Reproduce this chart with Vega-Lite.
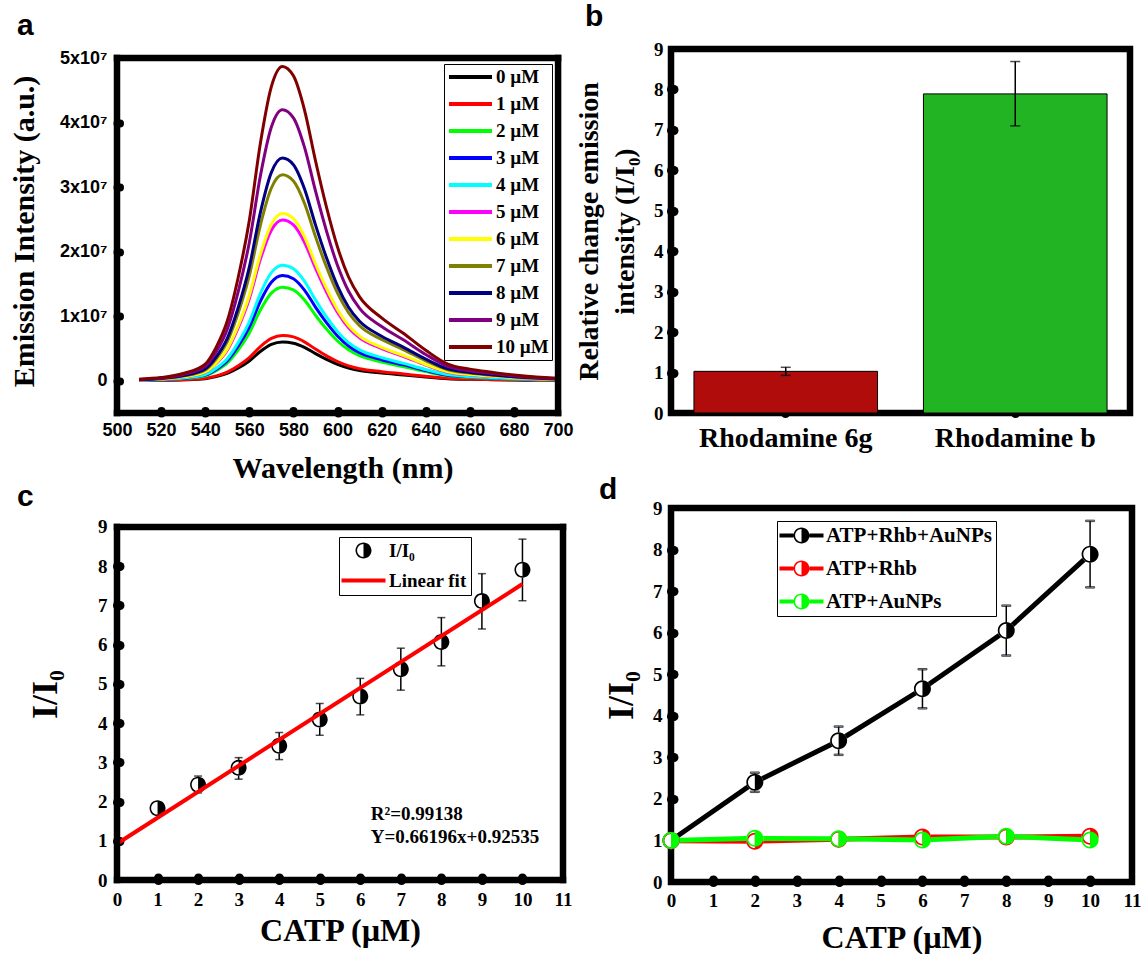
{
  "$schema": "https://vega.github.io/schema/vega-lite/v6.json",
  "autosize": {"type": "none"},
  "padding": {"left": 117, "top": 49, "right": 1024, "bottom": 905},
  "background": "white",
  "config": {
    "view": {"stroke": "black", "strokeWidth": 6.5},
    "font": "Liberation Serif",
    "axis": {"domain": false, "grid": false, "labelFont": "Liberation Serif", "labelFontWeight": "bold", "labelFontSize": 19, "labelColor": "black", "titleFont": "Liberation Serif", "titleFontWeight": "bold", "titleColor": "black", "tickColor": "black", "tickCap": "round", "tickSize": -2.5, "labelOverlap": false, "labelFlush": false},
    "legend": {"labelFont": "Liberation Serif", "labelFontWeight": "bold", "labelColor": "black", "labelLimit": 400},
    "title": {"font": "Liberation Sans", "fontSize": 30, "fontWeight": "bold", "anchor": "start", "frame": "group", "baseline": "alphabetic", "color": "black"}
  },
  "datasets": {
    "spectra": [
      {"wavelength":510,"0 µM":0.003e7,"1 µM":0.0035e7,"2 µM":0.007e7,"3 µM":0.008e7,"4 µM":0.009e7,"5 µM":0.012e7,"6 µM":0.013e7,"7 µM":0.016e7,"8 µM":0.017e7,"9 µM":0.021e7,"10 µM":0.024e7},
      {"wavelength":520,"0 µM":0.006e7,"1 µM":0.007e7,"2 µM":0.015e7,"3 µM":0.016e7,"4 µM":0.018e7,"5 µM":0.025e7,"6 µM":0.026e7,"7 µM":0.032e7,"8 µM":0.035e7,"9 µM":0.042e7,"10 µM":0.049e7},
      {"wavelength":530,"0 µM":0.014e7,"1 µM":0.016e7,"2 µM":0.033e7,"3 µM":0.037e7,"4 µM":0.041e7,"5 µM":0.057e7,"6 µM":0.060e7,"7 µM":0.073e7,"8 µM":0.079e7,"9 µM":0.097e7,"10 µM":0.112e7},
      {"wavelength":540,"0 µM":0.032e7,"1 µM":0.037e7,"2 µM":0.077e7,"3 µM":0.086e7,"4 µM":0.095e7,"5 µM":0.132e7,"6 µM":0.137e7,"7 µM":0.169e7,"8 µM":0.183e7,"9 µM":0.223e7,"10 µM":0.258e7},
      {"wavelength":545,"0 µM":0.064e7,"1 µM":0.075e7,"2 µM":0.155e7,"3 µM":0.174e7,"4 µM":0.192e7,"5 µM":0.266e7,"6 µM":0.277e7,"7 µM":0.341e7,"8 µM":0.369e7,"9 µM":0.449e7,"10 µM":0.521e7},
      {"wavelength":550,"0 µM":0.114e7,"1 µM":0.133e7,"2 µM":0.276e7,"3 µM":0.310e7,"4 µM":0.340e7,"5 µM":0.473e7,"6 µM":0.492e7,"7 µM":0.606e7,"8 µM":0.656e7,"9 µM":0.798e7,"10 µM":0.925e7},
      {"wavelength":555,"0 µM":0.198e7,"1 µM":0.231e7,"2 µM":0.479e7,"3 µM":0.538e7,"4 µM":0.591e7,"5 µM":0.822e7,"6 µM":0.855e7,"7 µM":1.053e7,"8 µM":1.139e7,"9 µM":1.386e7,"10 µM":1.607e7},
      {"wavelength":560,"0 µM":0.306e7,"1 µM":0.357e7,"2 µM":0.740e7,"3 µM":0.831e7,"4 µM":0.913e7,"5 µM":1.270e7,"6 µM":1.321e7,"7 µM":1.627e7,"8 µM":1.760e7,"9 µM":2.142e7,"10 µM":2.484e7},
      {"wavelength":565,"0 µM":0.453e7,"1 µM":0.529e7,"2 µM":1.095e7,"3 µM":1.231e7,"4 µM":1.351e7,"5 µM":1.880e7,"6 µM":1.955e7,"7 µM":2.408e7,"8 µM":2.605e7,"9 µM":3.171e7,"10 µM":3.677e7},
      {"wavelength":570,"0 µM":0.562e7,"1 µM":0.655e7,"2 µM":1.357e7,"3 µM":1.526e7,"4 µM":1.675e7,"5 µM":2.331e7,"6 µM":2.424e7,"7 µM":2.986e7,"8 µM":3.229e7,"9 µM":3.931e7,"10 µM":4.558e7},
      {"wavelength":575,"0 µM":0.600e7,"1 µM":0.700e7,"2 µM":1.450e7,"3 µM":1.630e7,"4 µM":1.790e7,"5 µM":2.490e7,"6 µM":2.590e7,"7 µM":3.190e7,"8 µM":3.450e7,"9 µM":4.200e7,"10 µM":4.870e7},
      {"wavelength":580,"0 µM":0.582e7,"1 µM":0.679e7,"2 µM":1.407e7,"3 µM":1.581e7,"4 µM":1.736e7,"5 µM":2.415e7,"6 µM":2.512e7,"7 µM":3.094e7,"8 µM":3.347e7,"9 µM":4.074e7,"10 µM":4.724e7},
      {"wavelength":585,"0 µM":0.517e7,"1 µM":0.603e7,"2 µM":1.250e7,"3 µM":1.405e7,"4 µM":1.543e7,"5 µM":2.146e7,"6 µM":2.233e7,"7 µM":2.750e7,"8 µM":2.974e7,"9 µM":3.620e7,"10 µM":4.198e7},
      {"wavelength":590,"0 µM":0.420e7,"1 µM":0.490e7,"2 µM":1.015e7,"3 µM":1.141e7,"4 µM":1.253e7,"5 µM":1.743e7,"6 µM":1.813e7,"7 µM":2.233e7,"8 µM":2.415e7,"9 µM":2.940e7,"10 µM":3.409e7},
      {"wavelength":595,"0 µM":0.331e7,"1 µM":0.386e7,"2 µM":0.800e7,"3 µM":0.900e7,"4 µM":0.988e7,"5 µM":1.374e7,"6 µM":1.430e7,"7 µM":1.761e7,"8 µM":1.904e7,"9 µM":2.318e7,"10 µM":2.688e7},
      {"wavelength":600,"0 µM":0.255e7,"1 µM":0.298e7,"2 µM":0.616e7,"3 µM":0.693e7,"4 µM":0.761e7,"5 µM":1.058e7,"6 µM":1.101e7,"7 µM":1.356e7,"8 µM":1.466e7,"9 µM":1.785e7,"10 µM":2.070e7},
      {"wavelength":605,"0 µM":0.198e7,"1 µM":0.231e7,"2 µM":0.479e7,"3 µM":0.538e7,"4 µM":0.591e7,"5 µM":0.822e7,"6 µM":0.855e7,"7 µM":1.053e7,"8 µM":1.139e7,"9 µM":1.386e7,"10 µM":1.607e7},
      {"wavelength":610,"0 µM":0.160e7,"1 µM":0.187e7,"2 µM":0.387e7,"3 µM":0.435e7,"4 µM":0.478e7,"5 µM":0.665e7,"6 µM":0.692e7,"7 µM":0.852e7,"8 µM":0.921e7,"9 µM":1.121e7,"10 µM":1.300e7},
      {"wavelength":620,"0 µM":0.120e7,"1 µM":0.140e7,"2 µM":0.290e7,"3 µM":0.326e7,"4 µM":0.358e7,"5 µM":0.498e7,"6 µM":0.518e7,"7 µM":0.638e7,"8 µM":0.690e7,"9 µM":0.840e7,"10 µM":0.974e7},
      {"wavelength":630,"0 µM":0.090e7,"1 µM":0.105e7,"2 µM":0.218e7,"3 µM":0.245e7,"4 µM":0.269e7,"5 µM":0.374e7,"6 µM":0.389e7,"7 µM":0.479e7,"8 µM":0.518e7,"9 µM":0.630e7,"10 µM":0.731e7},
      {"wavelength":640,"0 µM":0.058e7,"1 µM":0.068e7,"2 µM":0.141e7,"3 µM":0.158e7,"4 µM":0.174e7,"5 µM":0.242e7,"6 µM":0.251e7,"7 µM":0.309e7,"8 µM":0.335e7,"9 µM":0.407e7,"10 µM":0.472e7},
      {"wavelength":650,"0 µM":0.032e7,"1 µM":0.037e7,"2 µM":0.077e7,"3 µM":0.086e7,"4 µM":0.095e7,"5 µM":0.132e7,"6 µM":0.137e7,"7 µM":0.169e7,"8 µM":0.183e7,"9 µM":0.223e7,"10 µM":0.258e7},
      {"wavelength":660,"0 µM":0.022e7,"1 µM":0.026e7,"2 µM":0.054e7,"3 µM":0.060e7,"4 µM":0.066e7,"5 µM":0.092e7,"6 µM":0.096e7,"7 µM":0.118e7,"8 µM":0.128e7,"9 µM":0.155e7,"10 µM":0.180e7},
      {"wavelength":670,"0 µM":0.016e7,"1 µM":0.019e7,"2 µM":0.039e7,"3 µM":0.044e7,"4 µM":0.048e7,"5 µM":0.067e7,"6 µM":0.070e7,"7 µM":0.086e7,"8 µM":0.093e7,"9 µM":0.113e7,"10 µM":0.131e7},
      {"wavelength":680,"0 µM":0.011e7,"1 µM":0.013e7,"2 µM":0.026e7,"3 µM":0.029e7,"4 µM":0.032e7,"5 µM":0.045e7,"6 µM":0.047e7,"7 µM":0.057e7,"8 µM":0.062e7,"9 µM":0.076e7,"10 µM":0.088e7},
      {"wavelength":690,"0 µM":0.007e7,"1 µM":0.008e7,"2 µM":0.017e7,"3 µM":0.020e7,"4 µM":0.021e7,"5 µM":0.030e7,"6 µM":0.031e7,"7 µM":0.038e7,"8 µM":0.041e7,"9 µM":0.050e7,"10 µM":0.058e7},
      {"wavelength":700,"0 µM":0.005e7,"1 µM":0.006e7,"2 µM":0.012e7,"3 µM":0.013e7,"4 µM":0.014e7,"5 µM":0.020e7,"6 µM":0.021e7,"7 µM":0.026e7,"8 µM":0.028e7,"9 µM":0.034e7,"10 µM":0.039e7}
    ],
    "bars": [
      {"dye": "Rhodamine 6g", "ratio": 1.03, "lo": 0.93, "hi": 1.13},
      {"dye": "Rhodamine b", "ratio": 7.89, "lo": 7.10, "hi": 8.69}
    ],
    "cPoints": [
      {"conc": 1, "ratio": 1.83, "lo": 1.76, "hi": 1.90, "series": "I/I₀"},
      {"conc": 2, "ratio": 2.43, "lo": 2.22, "hi": 2.65, "series": "I/I₀"},
      {"conc": 3, "ratio": 2.86, "lo": 2.57, "hi": 3.12, "series": "I/I₀"},
      {"conc": 4, "ratio": 3.42, "lo": 3.07, "hi": 3.76, "series": "I/I₀"},
      {"conc": 5, "ratio": 4.09, "lo": 3.69, "hi": 4.50, "series": "I/I₀"},
      {"conc": 6, "ratio": 4.68, "lo": 4.21, "hi": 5.14, "series": "I/I₀"},
      {"conc": 7, "ratio": 5.37, "lo": 4.84, "hi": 5.91, "series": "I/I₀"},
      {"conc": 8, "ratio": 6.07, "lo": 5.46, "hi": 6.69, "series": "I/I₀"},
      {"conc": 9, "ratio": 7.11, "lo": 6.40, "hi": 7.81, "series": "I/I₀"},
      {"conc": 10, "ratio": 7.91, "lo": 7.12, "hi": 8.69, "series": "I/I₀"}
    ],
    "cFit": [
      {"conc": 0, "fit": 0.925},
      {"conc": 10, "fit": 7.545}
    ],
    "dSeries": [
      {"series": "ATP+Rhb+AuNPs", "conc": 0, "ratio": 1.00, "lo": 0.95, "hi": 1.05},
      {"series": "ATP+Rhb+AuNPs", "conc": 2, "ratio": 2.40, "lo": 2.17, "hi": 2.63},
      {"series": "ATP+Rhb+AuNPs", "conc": 4, "ratio": 3.40, "lo": 3.06, "hi": 3.74},
      {"series": "ATP+Rhb+AuNPs", "conc": 6, "ratio": 4.65, "lo": 4.18, "hi": 5.12},
      {"series": "ATP+Rhb+AuNPs", "conc": 8, "ratio": 6.05, "lo": 5.45, "hi": 6.65},
      {"series": "ATP+Rhb+AuNPs", "conc": 10, "ratio": 7.89, "lo": 7.09, "hi": 8.69},
      {"series": "ATP+Rhb", "conc": 0, "ratio": 0.99, "lo": 0.92, "hi": 1.06},
      {"series": "ATP+Rhb", "conc": 2, "ratio": 0.98, "lo": 0.90, "hi": 1.08},
      {"series": "ATP+Rhb", "conc": 4, "ratio": 1.03, "lo": 0.94, "hi": 1.12},
      {"series": "ATP+Rhb", "conc": 6, "ratio": 1.08, "lo": 0.96, "hi": 1.16},
      {"series": "ATP+Rhb", "conc": 8, "ratio": 1.08, "lo": 0.99, "hi": 1.18},
      {"series": "ATP+Rhb", "conc": 10, "ratio": 1.10, "lo": 0.98, "hi": 1.20},
      {"series": "ATP+AuNPs", "conc": 0, "ratio": 1.00, "lo": null, "hi": null},
      {"series": "ATP+AuNPs", "conc": 2, "ratio": 1.05, "lo": null, "hi": null},
      {"series": "ATP+AuNPs", "conc": 4, "ratio": 1.04, "lo": null, "hi": null},
      {"series": "ATP+AuNPs", "conc": 6, "ratio": 1.01, "lo": null, "hi": null},
      {"series": "ATP+AuNPs", "conc": 8, "ratio": 1.10, "lo": null, "hi": null},
      {"series": "ATP+AuNPs", "conc": 10, "ratio": 1.01, "lo": null, "hi": null}
    ]
  },
  "columns": 2,
  "align": "none",
  "bounds": "flush",
  "spacing": {"row": 95, "column": 103},
  "resolve": {
    "scale": {"color": "independent", "fill": "independent", "stroke": "independent", "shape": "independent"},
    "legend": {"color": "independent", "fill": "independent", "stroke": "independent", "shape": "independent"}
  },
  "concat": [
    {
      "width": 451, "height": 364,
      "view": {"stroke": null},
      "title": {"text": "a", "offset": 8, "dx": -100},
      "layer": [
        {
          "data": {"name": "spectra"},
          "transform": [{"fold": ["0 µM","1 µM","2 µM","3 µM","4 µM","5 µM","6 µM","7 µM","8 µM","9 µM","10 µM"], "as": ["concentration", "intensity"]}],
          "mark": {"type": "line", "strokeWidth": 3, "interpolate": "monotone"},
          "encoding": {
            "x": {"field": "wavelength", "type": "quantitative", "scale": {"domain": [500, 704.5], "nice": false, "zero": false},
                  "axis": {"values": [500,510,520,530,540,550,560,570,580,590,600,610,620,630,640,650,660,670,680,690,700],
                           "labelExpr": "datum.value % 20 === 0 ? datum.label : ''",
                           "labelFont": "Liberation Sans", "labelFontSize": 18, "labelPadding": 10.5, "tickWidth": 8,
                           "tickOpacity": {"condition": {"test": "datum.value === 500 || datum.value === 700", "value": 0}, "value": 1},
                           "title": "Wavelength (nm)", "titleFontSize": 30, "titlePadding": 14}},
            "y": {"field": "intensity", "type": "quantitative", "scale": {"domain": [-5000000, 51400000], "nice": false, "zero": false},
                  "axis": {"values": [0,5000000,10000000,15000000,20000000,25000000,30000000,35000000,40000000,45000000,50000000],
                           "labelExpr": "datum.value === 0 ? '0' : (datum.value % 10000000 === 0 ? (datum.value / 10000000) + 'x10⁷' : '')",
                           "labelFont": "Liberation Sans", "labelFontSize": 18, "labelPadding": 12.5, "tickWidth": 8,
                           "tickOpacity": {"condition": {"test": "datum.value === 50000000", "value": 0}, "value": 1},
                           "title": "Emission Intensity (a.u.)", "titleFontSize": 30, "titlePadding": 20}},
            "color": {"field": "concentration", "type": "nominal",
                      "scale": {"domain": ["0 µM","1 µM","2 µM","3 µM","4 µM","5 µM","6 µM","7 µM","8 µM","9 µM","10 µM"],
                                "range": ["#000000","#ff0000","#00ff00","#0000ff","#00ffff","#ff00ff","#ffff00","#808000","#000080","#800080","#800000"]},
                      "legend": {"title": null, "orient": "none", "legendX": 327, "legendY": 15, "symbolType": "M-1,0L4.375,0", "symbolSize": 256, "symbolStrokeWidth": 4,
                                 "labelFontSize": 19, "labelOffset": 29, "rowPadding": 7, "padding": 3, "strokeColor": "black", "fillColor": "white"}}
          }
        },
        {"data": {"values": [{}]}, "mark": {"type": "rule", "strokeWidth": 6.5, "color": "black", "strokeCap": "square"},
         "encoding": {"x": {"datum": 500}, "y": {"datum": -5000000}, "y2": {"datum": 50000000}}},
        {"data": {"values": [{}]}, "mark": {"type": "rule", "strokeWidth": 6.5, "color": "black", "strokeCap": "square"},
         "encoding": {"x": {"datum": 700}, "y": {"datum": -5000000}, "y2": {"datum": 50000000}}},
        {"data": {"values": [{}]}, "mark": {"type": "rule", "strokeWidth": 6.5, "color": "black", "strokeCap": "square"},
         "encoding": {"y": {"datum": 50000000}, "x": {"datum": 500}, "x2": {"datum": 700}}},
        {"data": {"values": [{}]}, "mark": {"type": "rule", "strokeWidth": 6.5, "color": "black", "strokeCap": "square"},
         "encoding": {"y": {"datum": -5000000}, "x": {"datum": 500}, "x2": {"datum": 700}}}
      ]
    },
    {
      "width": 459, "height": 364,
      "title": {"text": "b", "offset": 8, "dx": -86},
      "data": {"name": "bars"},
      "encoding": {
        "x": {"field": "dye", "type": "nominal", "sort": null, "scale": {"paddingInner": 0.2, "paddingOuter": 0.1},
              "axis": {"title": null, "labelAngle": 0, "labelFontSize": 28, "labelPadding": 13.5, "tickWidth": 9}}
      },
      "layer": [
        {"mark": {"type": "bar", "stroke": "black", "strokeWidth": 1},
         "encoding": {
           "y": {"field": "ratio", "type": "quantitative", "scale": {"domain": [0, 9], "nice": false},
                 "axis": {"values": [0,0.5,1,1.5,2,2.5,3,3.5,4,4.5,5,5.5,6,6.5,7,7.5,8,8.5,9],
                          "labelExpr": "datum.value % 1 === 0 ? datum.label : ''", "labelPadding": 10.5,
                          "tickWidth": {"condition": {"test": "datum.value % 1 === 0", "value": 9}, "value": 7},
                          "tickOpacity": {"condition": {"test": "datum.value === 0 || datum.value === 9", "value": 0}, "value": 1},
                          "title": ["Relative change emission", "intensity (I/I₀)"], "titleFontSize": 28, "titleLineHeight": 36, "titlePadding": 14}},
           "color": {"field": "dye", "type": "nominal", "scale": {"domain": ["Rhodamine 6g", "Rhodamine b"], "range": ["#b00c0c", "#22b422"]}, "legend": null}
         }},
        {"mark": {"type": "rule", "strokeWidth": 1.5, "color": "black"},
         "encoding": {"y": {"field": "lo", "type": "quantitative"}, "y2": {"field": "hi"}}},
        {"mark": {"type": "tick", "orient": "horizontal", "thickness": 1.5, "size": 10, "color": "black"},
         "encoding": {"y": {"field": "lo", "type": "quantitative"}}},
        {"mark": {"type": "tick", "orient": "horizontal", "thickness": 1.5, "size": 10, "color": "black"},
         "encoding": {"y": {"field": "hi", "type": "quantitative"}}}
      ]
    },
    {
      "width": 446, "height": 372,
      "view": {"stroke": null},
      "title": {"text": "c", "offset": -4, "dx": -100},
      "layer": [
        {"data": {"name": "cPoints"}, "mark": {"type": "rule", "strokeWidth": 1.5, "color": "black"},
         "encoding": {
           "x": {"field": "conc", "type": "quantitative", "scale": {"domain": [0, 11], "nice": false},
                 "axis": {"values": [0,0.5,1,1.5,2,2.5,3,3.5,4,4.5,5,5.5,6,6.5,7,7.5,8,8.5,9,9.5,10,10.5,11],
                          "labelExpr": "datum.value % 1 === 0 ? datum.label : ''", "labelPadding": 12.5,
                          "tickWidth": {"condition": {"test": "datum.value % 1 === 0", "value": 9}, "value": 7},
                          "tickOpacity": {"condition": {"test": "datum.value === 0 || datum.value === 11", "value": 0}, "value": 1},
                          "title": "CATP (µM)", "titleFontSize": 32, "titlePadding": 6}},
           "y": {"field": "lo", "type": "quantitative", "scale": {"domain": [0, 9.484], "nice": false},
                 "axis": {"values": [0,0.5,1,1.5,2,2.5,3,3.5,4,4.5,5,5.5,6,6.5,7,7.5,8,8.5,9],
                          "labelExpr": "datum.value % 1 === 0 ? datum.label : ''", "labelPadding": 12.5,
                          "tickWidth": {"condition": {"test": "datum.value % 1 === 0", "value": 9}, "value": 7},
                          "tickOpacity": {"condition": {"test": "datum.value === 0 || datum.value === 9", "value": 0}, "value": 1},
                          "title": "I/I₀", "titleFontSize": 36, "titlePadding": 33}},
           "y2": {"field": "hi"}
         }},
        {"data": {"name": "cPoints"}, "mark": {"type": "tick", "orient": "horizontal", "thickness": 1.5, "size": 8, "color": "black"},
         "encoding": {"x": {"field": "conc", "type": "quantitative"}, "y": {"field": "lo", "type": "quantitative"}}},
        {"data": {"name": "cPoints"}, "mark": {"type": "tick", "orient": "horizontal", "thickness": 1.5, "size": 8, "color": "black"},
         "encoding": {"x": {"field": "conc", "type": "quantitative"}, "y": {"field": "hi", "type": "quantitative"}}},
        {"data": {"name": "cPoints"}, "mark": {"type": "point", "filled": true, "color": "white", "opacity": 1, "size": 256, "shape": "circle"},
         "encoding": {"x": {"field": "conc", "type": "quantitative"}, "y": {"field": "ratio", "type": "quantitative"}}},
        {"data": {"name": "cPoints"}, "mark": {"type": "point", "filled": true, "color": "black", "opacity": 1, "size": 256, "strokeWidth": 0, "shape": "M0,-1A1,1,0,1,1,0,1A1,1,0,1,1,0,-1ZM0,-0.8A0.8,0.8,0,0,0,0,0.8Z"},
         "encoding": {"x": {"field": "conc", "type": "quantitative"}, "y": {"field": "ratio", "type": "quantitative"}}},
        {"data": {"name": "cPoints"}, "transform": [{"filter": "false"}], "mark": {"type": "point", "filled": true, "opacity": 1, "strokeWidth": 0},
         "encoding": {
           "x": {"field": "conc", "type": "quantitative"},
           "y": {"field": "ratio", "type": "quantitative"},
           "fill": {"field": "series", "type": "nominal", "scale": {"domain": ["I/I₀", "Linear fit"], "range": ["black", "red"]},
                    "legend": {"title": null, "orient": "none", "legendX": 222, "legendY": 29, "symbolSize": 256, "symbolStrokeWidth": 0,
                               "labelFontSize": 19, "labelOffset": 27, "rowPadding": 10, "padding": 4, "strokeColor": "black", "fillColor": "white"}},
           "shape": {"field": "series", "type": "nominal",
                     "scale": {"domain": ["I/I₀", "Linear fit"], "range": ["M1.375,-1A1,1,0,1,1,1.375,1A1,1,0,1,1,1.375,-1ZM1.375,-0.8A0.8,0.8,0,0,0,1.375,0.8Z", "M-1.375,-0.25L4.125,-0.25L4.125,0.25L-1.375,0.25Z"]},
                     "legend": {"title": null, "orient": "none", "legendX": 222, "legendY": 29, "symbolSize": 256, "symbolStrokeWidth": 0,
                                "labelFontSize": 19, "labelOffset": 27, "rowPadding": 10, "padding": 4, "strokeColor": "black", "fillColor": "white"}}
         }},
        {"data": {"name": "cFit"}, "mark": {"type": "line", "color": "#ff0000", "strokeWidth": 4},
         "encoding": {"x": {"field": "conc", "type": "quantitative"}, "y": {"field": "fit", "type": "quantitative"}}},
        {"data": {"values": [{}]}, "mark": {"type": "text", "align": "left", "baseline": "alphabetic", "font": "Liberation Serif", "fontWeight": "bold", "fontSize": 19, "lineHeight": 23, "color": "black"},
         "encoding": {"x": {"datum": 6.26}, "y": {"datum": 1.53}, "text": {"value": ["R²=0.99138", "Y=0.66196x+0.92535"]}}},
        {"data": {"values": [{}]}, "mark": {"type": "rule", "strokeWidth": 6.5, "color": "black", "strokeCap": "square"},
         "encoding": {"x": {"datum": 0}, "y": {"datum": 0}, "y2": {"datum": 9}}},
        {"data": {"values": [{}]}, "mark": {"type": "rule", "strokeWidth": 6.5, "color": "black", "strokeCap": "square"},
         "encoding": {"x": {"datum": 11}, "y": {"datum": 0}, "y2": {"datum": 9}}},
        {"data": {"values": [{}]}, "mark": {"type": "rule", "strokeWidth": 6.5, "color": "black", "strokeCap": "square"},
         "encoding": {"y": {"datum": 9}, "x": {"datum": 0}, "x2": {"datum": 11}}},
        {"data": {"values": [{}]}, "mark": {"type": "rule", "strokeWidth": 6.5, "color": "black", "strokeCap": "square"},
         "encoding": {"y": {"datum": 0}, "x": {"datum": 0}, "x2": {"datum": 11}}}
      ]
    },
    {
      "width": 461, "height": 374,
      "title": {"text": "d", "offset": -6, "dx": -72},
      "data": {"name": "dSeries"},
      "layer": [
        {"mark": {"type": "line", "strokeWidth": 5},
         "encoding": {
           "x": {"field": "conc", "type": "quantitative", "scale": {"domain": [0, 11], "nice": false},
                 "axis": {"values": [0,0.5,1,1.5,2,2.5,3,3.5,4,4.5,5,5.5,6,6.5,7,7.5,8,8.5,9,9.5,10,10.5,11],
                          "labelExpr": "datum.value % 1 === 0 ? datum.label : ''", "labelPadding": 11.5,
                          "tickWidth": {"condition": {"test": "datum.value % 1 === 0", "value": 9}, "value": 7},
                          "tickOpacity": {"condition": {"test": "datum.value === 0 || datum.value === 11", "value": 0}, "value": 1},
                          "title": "CATP (µM)", "titleFontSize": 32, "titlePadding": 12}},
           "y": {"field": "ratio", "type": "quantitative", "scale": {"domain": [0, 9], "nice": false},
                 "axis": {"values": [0,0.5,1,1.5,2,2.5,3,3.5,4,4.5,5,5.5,6,6.5,7,7.5,8,8.5,9],
                          "labelExpr": "datum.value % 1 === 0 ? datum.label : ''", "labelPadding": 11.5,
                          "tickWidth": {"condition": {"test": "datum.value % 1 === 0", "value": 9}, "value": 7},
                          "tickOpacity": {"condition": {"test": "datum.value === 0 || datum.value === 9", "value": 0}, "value": 1},
                          "title": "I/I₀", "titleFontSize": 36, "titlePadding": 12}},
           "stroke": {"field": "series", "type": "nominal", "scale": {"domain": ["ATP+AuNPs", "ATP+Rhb", "ATP+Rhb+AuNPs"], "range": ["#00ff00", "#ff0000", "black"]}, "legend": null}
         }},
        {"mark": {"type": "rule", "strokeWidth": 1.5},
         "encoding": {"x": {"field": "conc", "type": "quantitative"}, "y": {"field": "lo", "type": "quantitative"}, "y2": {"field": "hi"},
                      "stroke": {"field": "series", "type": "nominal", "legend": null}}},
        {"mark": {"type": "tick", "orient": "horizontal", "thickness": 1.5, "size": 9},
         "encoding": {"x": {"field": "conc", "type": "quantitative"}, "y": {"field": "lo", "type": "quantitative"},
                      "stroke": {"field": "series", "type": "nominal", "legend": null}}},
        {"mark": {"type": "tick", "orient": "horizontal", "thickness": 1.5, "size": 9},
         "encoding": {"x": {"field": "conc", "type": "quantitative"}, "y": {"field": "hi", "type": "quantitative"},
                      "stroke": {"field": "series", "type": "nominal", "legend": null}}},
        {"mark": {"type": "point", "filled": true, "color": "white", "opacity": 1, "size": 289, "shape": "circle"},
         "encoding": {"x": {"field": "conc", "type": "quantitative"}, "y": {"field": "ratio", "type": "quantitative"}}},
        {"mark": {"type": "point", "filled": true, "opacity": 1, "size": 289, "strokeWidth": 0, "shape": "M0,-1A1,1,0,1,1,0,1A1,1,0,1,1,0,-1ZM0,-0.8A0.8,0.8,0,0,0,0,0.8Z"},
         "encoding": {
           "x": {"field": "conc", "type": "quantitative"},
           "y": {"field": "ratio", "type": "quantitative"},
           "fill": {"field": "series", "type": "nominal", "scale": {"domain": ["ATP+Rhb+AuNPs", "ATP+Rhb", "ATP+AuNPs"], "range": ["black", "#ff0000", "#00ff00"]},
                    "legend": {"title": null, "orient": "none", "legendX": 106, "legendY": 13,
                               "symbolType": "M-1.5,-0.25L0.25,-0.25L0.25,0.25L-1.5,0.25ZM2.25,-0.25L4,-0.25L4,0.25L2.25,0.25ZM1.25,-1A1,1,0,1,1,1.25,1A1,1,0,1,1,1.25,-1ZM1.25,-0.8A0.8,0.8,0,0,0,1.25,0.8Z",
                               "symbolSize": 256, "symbolStrokeWidth": 0, "labelFontSize": 21, "labelOffset": 24, "rowPadding": 11, "padding": 4, "strokeColor": "black", "fillColor": "white"}}
         }}
      ]
    }
  ]
}
